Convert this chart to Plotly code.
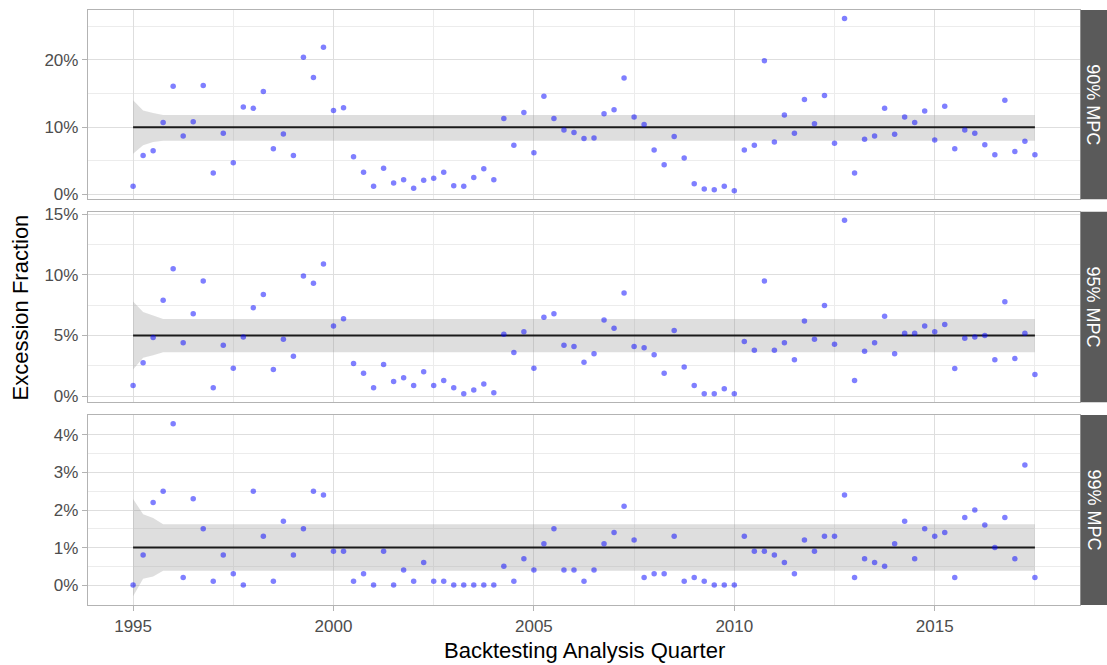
import plotly.graph_objects as go

# ---------------- data ----------------
QUARTERS = [1995 + q / 4 for q in range(91)]

MPC90 = [1.2, 5.8, 6.5, 10.7, 16.1, 8.7, 10.8, 16.2, 3.2, 9.1,
         4.7, 13.0, 12.8, 15.3, 6.8, 9.0, 5.8, 20.4, 17.4, 21.9,
         12.5, 12.9, 5.6, 3.3, 1.2, 3.9, 1.7, 2.2, 0.9, 2.1,
         2.4, 3.3, 1.3, 1.2, 2.5, 3.8, 2.2, 11.3, 7.3, 12.2,
         6.2, 14.6, 11.3, 9.6, 9.2, 8.3, 8.4, 12.0, 12.6, 17.3,
         11.5, 10.4, 6.6, 4.4, 8.6, 5.4, 1.6, 0.8, 0.7, 1.2,
         0.55, 6.6, 7.3, 19.9, 7.8, 11.8, 9.1, 14.1, 10.5, 14.7,
         7.6, 26.15, 3.2, 8.2, 8.7, 12.8, 8.95, 11.5, 10.7, 12.4,
         8.1, 13.1, 6.8, 9.6, 9.1, 7.4, 5.9, 14.0, 6.4, 7.9,
         5.9]

MPC95 = [0.88, 2.75, 4.83, 7.9, 10.5, 4.39, 6.8, 9.49, 0.69, 4.2,
         2.3, 4.88, 7.29, 8.39, 2.2, 4.69, 3.29, 9.9, 9.3, 10.9,
         5.79, 6.39, 2.69, 1.89, 0.69, 2.6, 1.21, 1.51, 0.88, 2.0,
         0.88, 1.29, 0.69, 0.2, 0.5, 0.99, 0.28, 5.1, 3.6, 5.3,
         2.3, 6.5, 6.8, 4.2, 4.09, 2.8, 3.49, 6.28, 5.59, 8.5,
         4.09, 3.98, 3.4, 1.89, 5.4, 2.39, 0.88, 0.2, 0.2, 0.6,
         0.2, 4.5, 3.78, 9.49, 3.78, 4.39, 2.99, 6.2, 4.69, 7.48,
         4.28, 14.5, 1.29, 3.7, 4.39, 6.58, 3.49, 5.18, 5.18, 5.79,
         5.3, 5.9, 2.28, 4.77, 4.88, 4.99, 2.99, 7.79, 3.1, 5.18,
         1.78]

MPC99 = [0.0, 0.8, 2.2, 2.5, 4.3, 0.2, 2.3, 1.5, 0.1, 0.8,
         0.3, 0.0, 2.5, 1.3, 0.1, 1.7, 0.8, 1.5, 2.5, 2.4,
         0.9, 0.9, 0.1, 0.3, 0.0, 0.9, 0.0, 0.4, 0.1, 0.6,
         0.1, 0.1, 0.0, 0.0, 0.0, 0.0, 0.0, 0.5, 0.1, 0.7,
         0.4, 1.1, 1.5, 0.4, 0.4, 0.1, 0.4, 1.1, 1.4, 2.1,
         1.2, 0.2, 0.3, 0.3, 1.3, 0.1, 0.2, 0.1, 0.0, 0.0,
         0.0, 1.3, 0.9, 0.9, 0.8, 0.6, 0.3, 1.2, 0.9, 1.3,
         1.3, 2.4, 0.2, 0.7, 0.6, 0.5, 1.1, 1.7, 0.7, 1.5,
         1.3, 1.4, 0.2, 1.8, 2.0, 1.6, 1.0, 1.8, 0.7, 3.2,
         0.2]

LEVELS = ["90% MPC", "95% MPC", "99% MPC"]
TARGETS = [10, 5, 1]

RIBBON_X = [1995.0, 1995.25, 1995.5, 1995.75, 2017.5]
RIB90_HI = [14.0, 12.5, 12.1, 11.8, 11.8]
RIB90_LO = [6.05, 7.3, 7.8, 8.0, 8.0]
RIB95_HI = [7.81, 6.94, 6.64, 6.36, 6.36]
RIB95_LO = [2.2, 3.16, 3.37, 3.62, 3.62]
RIB99_HI = [2.29, 1.89, 1.79, 1.62, 1.62]
RIB99_LO = [-0.30, 0.17, 0.23, 0.38, 0.38]

Y_TICKS = [[0, 10, 20], [0, 5, 10, 15], [0, 1, 2, 3, 4]]
Y_MINOR = [[5, 15, 25], [2.5, 7.5, 12.5], [0.5, 1.5, 2.5, 3.5]]
X_TICKS = [1995, 2000, 2005, 2010, 2015]
X_MINOR = [1997.5, 2002.5, 2007.5, 2012.5, 2017.5]

SERIES = [MPC90, MPC95, MPC99]
RIB_HI = [RIB90_HI, RIB95_HI, RIB99_HI]
RIB_LO = [RIB90_LO, RIB95_LO, RIB99_LO]

# ---------------- layout geometry ----------------
W, H = 1107, 665
ML, MR, MT, MB = 88, 27, 10, 60
PW = W - ML - MR
PH = H - MT - MB
DOMAINS = [[0.6818, 1.0], [0.3407, 0.661], [0.0, 0.3193]]

FONT = "Liberation Sans, Arial, Helvetica, sans-serif"
GRID = "#dedede"
GRID_MINOR = "#ececec"
BORDER = "#b3b3b3"
TICKTXT = "#4d4d4d"

fig = go.Figure()

for k in range(3):
    xa = "x" if k == 0 else f"x{k+1}"
    ya = "y" if k == 0 else f"y{k+1}"
    # ribbon
    fig.add_trace(go.Scatter(x=RIBBON_X, y=RIB_LO[k], mode="lines",
                             line=dict(width=0), hoverinfo="skip",
                             xaxis=xa, yaxis=ya, showlegend=False))
    fig.add_trace(go.Scatter(x=RIBBON_X, y=RIB_HI[k], mode="lines",
                             line=dict(width=0), fill="tonexty",
                             fillcolor="rgba(153,153,153,0.32)",
                             hoverinfo="skip",
                             xaxis=xa, yaxis=ya, showlegend=False))
    # target line
    fig.add_trace(go.Scatter(x=[QUARTERS[0], QUARTERS[-1]],
                             y=[TARGETS[k], TARGETS[k]], mode="lines",
                             line=dict(color="#1a1a1a", width=2),
                             xaxis=xa, yaxis=ya, showlegend=False))
    # points
    fig.add_trace(go.Scatter(x=QUARTERS, y=SERIES[k], mode="markers",
                             marker=dict(color="rgba(0,0,255,0.5)", size=5.5,
                                         line=dict(width=0)),
                             xaxis=xa, yaxis=ya, showlegend=False))

xmin, xmax = QUARTERS[0], QUARTERS[-1]
xpad = 0.05 * (xmax - xmin)
xrange = [xmin - xpad, xmax + xpad]

layout = dict(
    width=W, height=H,
    margin=dict(l=ML, r=MR, t=MT, b=MB, pad=0, autoexpand=False),
    paper_bgcolor="white", plot_bgcolor="white",
    showlegend=False,
    font=dict(family=FONT, size=17, color=TICKTXT),
)

for k in range(3):
    xkey = "xaxis" if k == 0 else f"xaxis{k+1}"
    ykey = "yaxis" if k == 0 else f"yaxis{k+1}"
    xa = "x" if k == 0 else f"x{k+1}"
    ya = "y" if k == 0 else f"y{k+1}"
    allv = SERIES[k] + RIB_HI[k] + RIB_LO[k]
    lo, hi = min(allv), max(allv)
    pad = 0.05 * (hi - lo)
    bottom = (k == 2)
    layout[xkey] = dict(
        range=xrange, anchor=ya, domain=[0, 1], automargin=False,
        tickvals=X_TICKS, ticktext=[str(v) for v in X_TICKS],
        showticklabels=bottom,
        ticks="outside" if bottom else "", ticklen=5, tickcolor=BORDER,
        tickwidth=1,
        tickfont=dict(family=FONT, size=17, color=TICKTXT),
        showgrid=True, gridcolor=GRID, gridwidth=1.1,
        minor=dict(tickvals=X_MINOR, showgrid=True, gridcolor=GRID_MINOR,
                   gridwidth=1, ticks=""),
        showline=True, mirror=True, linecolor=BORDER, linewidth=1.3,
        zeroline=False,
    )
    if k > 0:
        layout[xkey]["matches"] = "x"
    layout[ykey] = dict(
        range=[lo - pad, hi + pad], anchor=xa, domain=DOMAINS[k],
        automargin=False,
        tickvals=Y_TICKS[k], ticktext=[f"{v}%" for v in Y_TICKS[k]],
        ticks="outside", ticklen=5, tickcolor=BORDER, tickwidth=1,
        tickfont=dict(family=FONT, size=17, color=TICKTXT),
        showgrid=True, gridcolor=GRID, gridwidth=1.1,
        minor=dict(tickvals=Y_MINOR[k], showgrid=True, gridcolor=GRID_MINOR,
                   gridwidth=1, ticks=""),
        showline=True, mirror=True, linecolor=BORDER, linewidth=1.3,
        zeroline=False,
    )

fig.update_layout(**layout)

# facet strips
strip_w = 27 / PW
shapes = []
annotations = []
for k in range(3):
    d0, d1 = DOMAINS[k]
    shapes.append(dict(type="rect", xref="paper", yref="paper",
                       x0=1.0 + 0.6 / PW, x1=1.0 + strip_w + 0.01,
                       y0=d0, y1=d1, fillcolor="#5a5a5a",
                       line=dict(width=0), layer="above"))
    annotations.append(dict(text=LEVELS[k], xref="paper", yref="paper",
                            x=1.0 + strip_w / 2, y=(d0 + d1) / 2,
                            xanchor="center", yanchor="middle",
                            textangle=90, showarrow=False,
                            font=dict(family=FONT, size=18, color="white")))

annotations.append(dict(text="Excession Fraction", xref="paper", yref="paper",
                        x=(20 - ML) / PW, y=0.5, xanchor="center",
                        yanchor="middle", textangle=-90, showarrow=False,
                        font=dict(family=FONT, size=22, color="black")))
annotations.append(dict(text="Backtesting Analysis Quarter", xref="paper",
                        yref="paper", x=0.5, y=(MT + PH - 650) / PH,
                        xanchor="center", yanchor="middle", showarrow=False,
                        font=dict(family=FONT, size=22, color="black")))

fig.update_layout(shapes=shapes, annotations=annotations)

fig.write_html("out.html")
